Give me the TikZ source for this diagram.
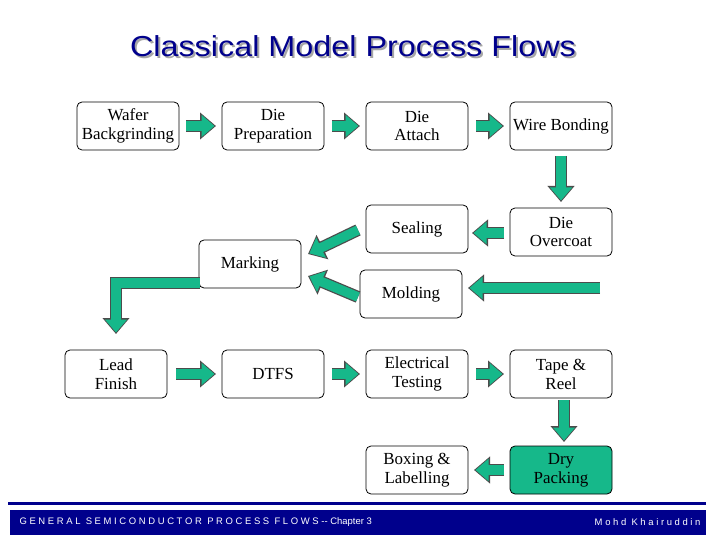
\documentclass[tikz,border=0pt]{standalone}
\usepackage{fontspec}
\setmainfont{Liberation Serif}
\newfontfamily\sans{Liberation Sans}
\usetikzlibrary{arrows.meta}
\definecolor{agreen}{RGB}{22,184,138}
\definecolor{navy}{RGB}{0,0,140}
\begin{document}
\begin{tikzpicture}[x=1bp,y=-1bp,
  box/.style={draw,rounded corners=5bp,minimum width=102bp,minimum height=48bp,align=center,font=\fontsize{17}{19}\selectfont,inner sep=1bp,line width=0.8bp},
  bo/.style={line width=12bp,draw=black!70,-{Triangle[length=16bp,width=26bp]}},
  bi/.style={line width=9.5bp,draw=agreen,-{Triangle[length=13bp,width=21.5bp]},shorten >=1.5bp},
  ttl/.style={font=\sans\fontsize{29}{31}\selectfont,xscale=1.12}]
\newcommand\blkarrow[1]{\draw[bo] #1; \draw[bi] #1;}
\useasboundingbox (0,0) rectangle (720,540);
\fill[white] (0,0) rectangle (720,540);
\node[ttl,text=black!35] at (355,48) {Classical Model Process Flows};
\node[ttl,text=navy] (title) at (353,46) {Classical Model Process Flows};
\node[box] (wb) at (128,126) {Wafer\\Backgrinding};
\node[box] (dp) at (273,126) {Die\\Preparation};
\node[box] (da) at (417,126) {Die\\Attach};
\node[box] (wbd) at (561,126) {Wire Bonding};
\node[box] (doc) at (561,232) {Die\\Overcoat};
\node[box] (seal) at (417,229) {Sealing};
\node[box] (mark) at (250,264) {Marking};
\node[box] (mold) at (411,294) {Molding};
\node[box] (lf) at (116,374) {Lead\\Finish};
\node[box] (dtfs) at (273,374) {DTFS};
\node[box] (et) at (417,374) {Electrical\\Testing};
\node[box] (tr) at (561,374) {Tape \&\\Reel};
\node[box] (bl) at (417,470) {Boxing \&\\Labelling};
\node[box,fill=agreen] (dry) at (561,470) {Dry\\Packing};
\blkarrow{(186,126) -- (216,126)}
\blkarrow{(332,126) -- (360,126)}
\blkarrow{(476,126) -- (504,126)}
\blkarrow{(561,156) -- (561,202)}
\blkarrow{(504,233) -- (472,233)}
\blkarrow{(600,288) -- (468,288)}
\blkarrow{(358,230) -- (308,254)}
\blkarrow{(358,297) -- (308,276)}
\blkarrow{(200,283) -- (116,283) -- (116,334)}
\blkarrow{(176,374) -- (216,374)}
\blkarrow{(332,374) -- (360,374)}
\blkarrow{(476,374) -- (504,374)}
\blkarrow{(564,400) -- (564,442)}
\blkarrow{(504,470) -- (474,470)}
\fill[navy] (8,502) rectangle (706,505);
\fill[navy] (10,510) rectangle (706,535);
\node[anchor=west,text=white,font=\sans\fontsize{9.5}{11}\selectfont] (foot) at (16,522) {G E N E R A L\ \ S E M I C O N D U C T O R\ \ P R O C E S S\ \ F L O W S -- Chapter 3};
\node[anchor=east,text=white,font=\sans\fontsize{9.5}{11}\selectfont] (auth) at (704,522) {M o h d\ \ K h a i r u d d i n};
\end{tikzpicture}
\end{document}
